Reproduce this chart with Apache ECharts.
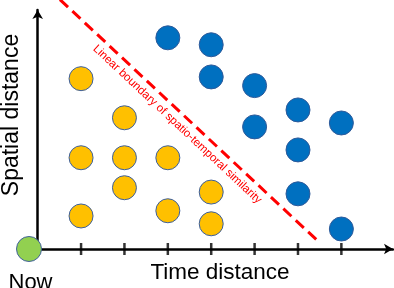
<!DOCTYPE html>
<html>
<head>
<meta charset="utf-8">
<script src="https://cdn.jsdelivr.net/npm/echarts@6/dist/echarts.min.js"></script>
<style>
html,body{margin:0;padding:0;background:#fff;}
#c{width:394px;height:288px;}
</style>
</head>
<body>
<div id="c"></div>
<script>
// Data (x in tick units, y in same units above the time axis)
const yellowPoints = [
  [1, 3.92], [2, 3.02], [1, 2.10], [2, 2.10], [3, 2.10],
  [2, 1.41], [1, 0.76], [3, 0.88], [4, 1.31], [4, 0.58]
];
const bluePoints = [
  [3, 4.86], [4, 4.70], [4, 3.96], [5, 3.76], [6, 3.20],
  [5, 2.81], [7, 2.90], [6, 2.28], [6, 1.27], [7, 0.46]
];
const nowPoint = [[-0.2, 0]];
const timeTicks = [1, 2, 3, 4, 5, 6, 7];
const boundaryLine = [[0.514, 5.74], [6.505, 0.14]];
const boundaryText = 'Linear boundary of spatio-temporal similarity';
const xTitle = 'Time distance';
const yTitle = 'Spatial distance';
const nowLabel = 'Now';

const FONT = '"Liberation Sans", Arial, sans-serif';
const chart = echarts.init(document.getElementById('c'), null, {renderer: 'canvas'});

// point on the boundary line at a given fraction (used to place its label span)
function onBoundary(t) {
  const a = boundaryLine[0], b = boundaryLine[1];
  return [a[0] + (b[0] - a[0]) * t, a[1] + (b[1] - a[1]) * t];
}

chart.setOption({
  animation: false,
  backgroundColor: '#fff',
  grid: {left: 29, top: 10, width: 364, height: 239, containLabel: false},
  xAxis: {
    type: 'value', min: -0.2, max: 8.19,
    axisLine: {show: true, symbol: ['none', 'arrow'], symbolSize: [8, 9],
      lineStyle: {color: '#000', width: 2.5}},
    axisTick: {show: false}, axisLabel: {show: false}, splitLine: {show: false}
  },
  yAxis: {
    type: 'value', min: 0, max: 5.5,
    axisLine: {show: true, symbol: ['none', 'arrow'], symbolSize: [8, 9],
      lineStyle: {color: '#000', width: 2.5}},
    axisTick: {show: false}, axisLabel: {show: false}, splitLine: {show: false}
  },
  graphic: [
    {type: 'text', x: 220, y: 284, style: {text: xTitle, font: '22.5px ' + FONT, fill: '#000', textAlign: 'center', textVerticalAlign: 'bottom'}},
    {type: 'text', x: 23.5, y: 115, rotation: Math.PI / 2, style: {text: yTitle, font: '23px ' + FONT, fill: '#000', textAlign: 'center', textVerticalAlign: 'bottom'}},
    {type: 'text', x: 30.5, y: 294, style: {text: nowLabel, font: '22px ' + FONT, fill: '#000', textAlign: 'center', textVerticalAlign: 'bottom'}}
  ],
  series: [
    {
      type: 'scatter', data: timeTicks.map(v => [v, 0]), symbol: 'rect', symbolSize: [2.5, 12],
      itemStyle: {color: '#000'}, clip: false, silent: true, z: 3
    },
    {
      type: 'line', data: boundaryLine, showSymbol: false, symbol: 'none', clip: false,
      lineStyle: {color: '#ff0000', width: 3, type: [11, 6]}, z: 4,
      markLine: {
        silent: true, symbol: ['none', 'none'],
        lineStyle: {color: 'rgba(255,0,0,0)', width: 0},
        label: {show: true, position: 'insideMiddleBottom', formatter: boundaryText,
          color: '#ff0000', fontSize: 11.5, fontFamily: FONT, distance: 5},
        data: [[{coord: onBoundary(0.043)}, {coord: onBoundary(0.917)}]]
      }
    },
    {
      type: 'scatter', data: yellowPoints, symbolSize: 24,
      itemStyle: {color: '#FFC000', borderColor: '#3B5FA0', borderWidth: 1, opacity: 1}, z: 5
    },
    {
      type: 'scatter', data: bluePoints, symbolSize: 24,
      itemStyle: {color: '#0070C0', borderColor: '#2E5A9A', borderWidth: 1, opacity: 1}, z: 5
    },
    {
      type: 'scatter', data: nowPoint, symbolSize: 25, clip: false,
      itemStyle: {color: '#92D050', borderColor: '#41619C', borderWidth: 1, opacity: 1}, z: 6
    }
  ]
});
</script>
</body>
</html>
